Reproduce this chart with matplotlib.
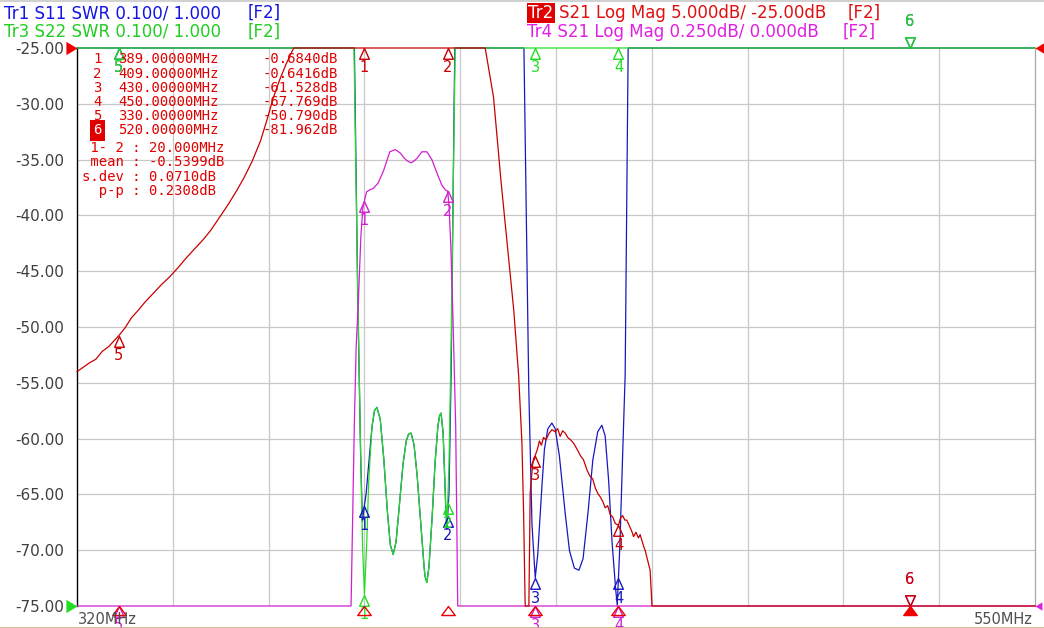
import numpy as np
import matplotlib
matplotlib.use('Agg')
import matplotlib.pyplot as plt
from matplotlib.path import Path
from matplotlib.lines import Line2D

# ---------------- data ----------------
F_START, F_STOP = 320.0, 550.0
Y_TOP, Y_BOT = -25.0, -75.0
y_ticks = [-25, -30, -35, -40, -45, -50, -55, -60, -65, -70, -75]
y_tick_labels = ["-25.00", "-30.00", "-35.00", "-40.00", "-45.00", "-50.00",
                 "-55.00", "-60.00", "-65.00", "-70.00", "-75.00"]

# S21 (dB) - shown as Tr2 (5 dB/div, ref -25 dB) and Tr4 (0.25 dB/div, ref 0 dB)
s21_freq = [320.0, 321.5, 323.0, 324.5, 326.0, 327.5, 329.0, 330.0, 331.5, 333.0,
            334.5, 336.0, 338.0, 340.0, 342.0, 344.0, 346.0, 348.0, 350.0, 352.0,
            354.0, 356.0, 358.0, 360.0, 362.0, 364.0, 365.5, 367.0, 368.5, 370.0,
            372.0, 385.8, 386.5, 387.0, 387.5, 388.1, 388.6, 389.0, 389.5, 390.3,
            391.1, 392.3, 393.5, 394.3, 395.1, 396.4, 397.6, 398.4, 399.2, 400.2,
            401.0, 401.6, 402.8, 404.0, 405.2, 406.4, 407.6, 408.4, 409.0, 409.3,
            409.7, 410.2, 410.6, 410.9, 411.4, 418.0, 420.0, 421.6, 423.2, 424.8,
            426.0, 426.8, 427.2, 427.4, 427.7, 428.4, 428.8, 429.3, 429.6, 430.0,
            430.5, 431.0, 431.5, 432.0, 432.6, 433.2, 434.0, 434.8, 435.4, 436.0,
            436.6, 437.2, 437.8, 438.5, 439.2, 440.0, 440.8, 441.6, 442.4, 443.2,
            443.8, 444.4, 445.0, 445.6, 446.2, 446.8, 447.4, 448.0, 448.6, 449.2,
            450.0, 450.5, 451.0, 451.5, 452.0, 452.6, 453.2, 453.6, 454.2, 454.8,
            455.2, 455.8, 456.4, 457.0, 457.6, 458.0, 458.3, 470.0, 490.0, 520.0,
            550.0]
s21_db = [-54.0, -53.6, -53.2, -52.9, -52.2, -51.8, -51.2, -50.79, -50.1, -49.2,
          -48.6, -47.9, -47.1, -46.3, -45.6, -44.8, -43.9, -43.1, -42.3, -41.4,
          -40.3, -39.2, -38.0, -36.7, -35.2, -33.4, -31.6, -29.6, -28.0, -26.6,
          -25.0, -2.5, -1.75, -1.35, -1.16, -0.86, -0.72, -0.684, -0.645, -0.635,
          -0.63, -0.605, -0.555, -0.51, -0.465, -0.455, -0.47, -0.49, -0.505, -0.515,
          -0.505, -0.495, -0.465, -0.465, -0.50, -0.56, -0.615, -0.635, -0.6416, -0.70,
          -0.86, -1.16, -1.46, -1.665, -2.5, -25.0, -29.4, -36.2, -42.2, -48.2,
          -54.1, -60.1, -66.1, -70.9, -77.0, -78.0, -64.9, -62.6, -61.8, -61.528,
          -61.0, -60.2, -60.6, -59.9, -60.1, -59.6, -59.2, -59.4, -59.1, -59.8,
          -59.3, -59.5, -59.9, -60.1, -60.4, -60.9, -61.5, -61.9, -62.8, -63.4,
          -63.6, -64.4, -64.9, -65.2, -65.6, -66.2, -66.0, -66.8, -67.0, -67.6,
          -67.769, -67.1, -66.9, -67.3, -67.3, -67.8, -68.3, -68.8, -68.4, -68.9,
          -68.6, -69.4, -70.0, -70.9, -71.8, -74.7, -78.0, -80.0, -82.0, -81.962,
          -82.0]

# S11 SWR (Tr1)
s11_freq = [320.0, 386.0, 386.6, 387.3, 388.0, 388.5, 388.9, 389.4, 390.0, 390.8,
            391.4, 392.0, 392.8, 393.6, 394.4, 395.2, 395.9, 396.6, 397.4, 398.2,
            399.0, 399.6, 400.2, 400.9, 401.6, 402.3, 403.0, 403.5, 404.0, 404.5,
            405.2, 405.9, 406.6, 407.0, 407.4, 407.9, 408.4, 408.8, 409.3, 409.8,
            410.3, 410.7, 411.0, 420.0, 427.0, 427.3, 428.4, 429.2, 430.0, 430.6,
            431.4, 432.2, 433.0, 434.0, 434.8, 435.8, 437.0, 438.2, 439.4, 440.5,
            441.5, 442.6, 443.8, 445.0, 446.0, 446.8, 447.6, 448.4, 449.2, 449.7,
            450.3, 450.8, 451.6, 452.3, 453.0, 550.0]
s11_swr = [10.0, 4.0, 2.0, 1.6, 1.3, 1.15, 1.175, 1.2, 1.25, 1.32,
           1.35, 1.356, 1.335, 1.27, 1.18, 1.11, 1.092, 1.115, 1.18, 1.25,
           1.295, 1.308, 1.31, 1.29, 1.24, 1.17, 1.1, 1.055, 1.042, 1.07,
           1.15, 1.25, 1.32, 1.34, 1.346, 1.31, 1.2, 1.136, 1.2, 1.4,
           1.75, 2.0, 4.0, 10.0, 4.0, 2.0, 1.41, 1.15, 1.05, 1.09,
           1.19, 1.28, 1.317, 1.328, 1.318, 1.27, 1.18, 1.10, 1.068, 1.064,
           1.085, 1.16, 1.26, 1.312, 1.324, 1.305, 1.23, 1.12, 1.04, 1.0,
           1.1, 1.226, 1.41, 2.0, 4.0, 10.0]

# S22 SWR (Tr3)
s22_freq = [320.0, 386.0, 386.5, 387.2, 387.9, 388.5, 389.0, 389.5, 390.0, 390.8,
            391.4, 392.0, 392.8, 393.6, 394.4, 395.2, 395.9, 396.6, 397.4, 398.2,
            399.0, 399.6, 400.2, 400.9, 401.6, 402.3, 403.0, 403.5, 404.0, 404.5,
            405.2, 405.9, 406.6, 407.0, 407.4, 407.9, 408.4, 408.8, 409.3, 409.8,
            410.4, 410.8, 411.3, 550.0]
s22_swr = [10.0, 4.0, 2.0, 1.65, 1.35, 1.12, 1.02, 1.1, 1.22, 1.32,
           1.35, 1.356, 1.335, 1.27, 1.18, 1.11, 1.092, 1.115, 1.18, 1.25,
           1.295, 1.308, 1.31, 1.29, 1.24, 1.17, 1.1, 1.055, 1.042, 1.07,
           1.15, 1.25, 1.32, 1.34, 1.346, 1.31, 1.2, 1.14, 1.25, 1.45,
           1.8, 2.0, 4.0, 10.0]

marker_ids = [1, 2, 3, 4, 5, 6]
marker_freq = [389.0, 409.0, 430.0, 450.0, 330.0, 520.0]
marker_val = [-0.6840, -0.6416, -61.528, -67.769, -50.790, -81.962]
active_marker = 6
stats_labels = [" 1- 2", " mean", "s.dev", "  p-p"]
stats_values = ["20.000MHz", "-0.5399dB", "0.0710dB", "0.2308dB"]

header_left = [("Tr1 S11 SWR 0.100/ 1.000", "[F2]", "#1414e6"),
               ("Tr3 S22 SWR 0.100/ 1.000", "[F2]", "#22cc22")]
header_right = [("Tr2", "S21 Log Mag 5.000dB/ -25.00dB", "[F2]", "#e01010"),
                ("Tr4", "S21 Log Mag 0.250dB/ 0.000dB", "[F2]", "#e020e0")]

# ---------------- figure ----------------
W, H = 1044, 628
fig = plt.figure(figsize=(W / 100, H / 100), dpi=100)
fig.patch.set_facecolor('white')
L, R, T, B = 77, 1035, 48, 606
ax = fig.add_axes([L / W, 1 - B / H, (R - L) / W, (B - T) / H])
ax.set_xlim(F_START, F_STOP)
ax.set_ylim(Y_BOT, Y_TOP)
ax.set_facecolor('white')

xg = np.linspace(F_START, F_STOP, 11)
for x in xg[1:-1]:
    ax.axvline(x, color='#c8c8c8', lw=0.9, zorder=1)
for y in y_ticks[1:-1]:
    ax.axhline(y, color='#c8c8c8', lw=0.9, zorder=1)

ax.set_xticks([])
ax.set_yticks(y_ticks)
ax.set_yticklabels(y_tick_labels, fontsize=11, color='#404040', family='DejaVu Sans')
ax.tick_params(axis='y', length=0, pad=9)
for s in ['top', 'bottom']:
    ax.spines[s].set_visible(False)
ax.spines['left'].set_color('black')
ax.spines['left'].set_linewidth(1.0)
ax.spines['right'].set_color('#a8a8a8')
ax.spines['right'].set_linewidth(0.9)

fgrid = np.linspace(F_START, F_STOP, 8000)


def disp_logmag(db, ref, scale):
    return Y_TOP + (np.asarray(db) - ref) / scale * 5.0


def disp_swr(swr, ref=1.0, scale=0.1):
    return Y_BOT + (np.asarray(swr) - ref) / scale * 5.0


def trace(freq, disp_vals):
    d = np.interp(fgrid, freq, disp_vals)
    return np.clip(d, Y_BOT, Y_TOP)


c_blue, c_green, c_red, c_mag = '#1818c0', '#22dd22', '#c80000', '#d020d0'
tr1_disp = disp_swr(s11_swr)
tr3_disp = disp_swr(s22_swr)
tr2_disp = disp_logmag(s21_db, -25.0, 5.0)
tr4_disp = disp_logmag(s21_db, 0.0, 0.25)

traces = [
    (s11_freq, tr1_disp, c_blue, 2),
    (s22_freq, tr3_disp, c_green, 3),
    (s21_freq, tr4_disp, c_mag, 4),
    (s21_freq, tr2_disp, c_red, 5),
]
for fr, dv, col, z in traces:
    ax.plot(fgrid, trace(fr, dv), color=col, lw=0.9, zorder=z, clip_on=False)

# ---------------- markers ----------------
up_path = Path([(0, 0), (-0.45, -1), (0.45, -1), (0, 0)],
               [Path.MOVETO, Path.LINETO, Path.LINETO, Path.CLOSEPOLY])
down_path = Path([(0, 0), (-0.45, 1), (0.45, 1), (0, 0)],
                 [Path.MOVETO, Path.LINETO, Path.LINETO, Path.CLOSEPOLY])
stim_path = Path([(0, 0), (-0.6, -0.8), (0.6, -0.8), (0, 0)],
                 [Path.MOVETO, Path.LINETO, Path.LINETO, Path.CLOSEPOLY])

for fr, dv, col, z in traces:
    for mid, mf in zip(marker_ids, marker_freq):
        v = float(np.clip(np.interp(mf, fr, dv), Y_BOT, Y_TOP))
        active = (mid == active_marker)
        ax.plot([mf], [v], marker=down_path if active else up_path, ms=15.5,
                mfc='none', mec=col, mew=1.0, zorder=10 + z, clip_on=False)
        ax.annotate(str(mid), (mf, v), xytext=(0, 27 if active else -20),
                    textcoords='offset pixels', ha='center', va='center',
                    fontsize=10.5, color=col, zorder=10 + z,
                    annotation_clip=False)

# stimulus markers under the grid (active trace)
for mid, mf in zip(marker_ids, marker_freq):
    active = (mid == active_marker)
    ax.plot([mf], [Y_BOT], marker=stim_path, ms=13, mfc='#ee0000' if active else 'none',
            mec='#ee0000', mew=1.0, zorder=20, clip_on=False)

# reference position arrows
right_arrow = Path([(0, 0), (-1, 0.6), (-1, -0.6), (0, 0)],
                   [Path.MOVETO, Path.LINETO, Path.LINETO, Path.CLOSEPOLY])
left_arrow = Path([(0, 0), (1, 0.6), (1, -0.6), (0, 0)],
                  [Path.MOVETO, Path.LINETO, Path.LINETO, Path.CLOSEPOLY])
ax.plot([F_START], [Y_TOP], marker=right_arrow, ms=16, color='#ee0000', mew=0, clip_on=False, zorder=30)
ax.plot([F_START], [Y_BOT], marker=right_arrow, ms=16, color='#22dd22', mew=0, clip_on=False, zorder=30)
ax.plot([F_STOP], [Y_TOP], marker=left_arrow, ms=16, color='#ee0000', mew=0, clip_on=False, zorder=30)
ax.plot([F_STOP], [Y_BOT], marker=left_arrow, ms=10, color='#e020e0', mew=0, clip_on=False, zorder=30)


# ---------------- texts ----------------
def ftext(x, y, s, **kw):
    kw.setdefault('va', 'center')
    return fig.text(x / W, 1 - y / H, s, **kw)


hf = dict(fontsize=12, family='DejaVu Sans')
for (txt, f2, col), y in zip(header_left, [13, 32]):
    ftext(4, y, txt, color=col, **hf)
    ftext(248, y, f2, color=col, **hf)
(tag, txt, f2, col) = header_right[0]
ftext(528, 13, tag, color='white',
      bbox=dict(boxstyle='square,pad=0.08', fc='#e00000', ec='none'), **hf)
ftext(559, 13, txt, color=col, **hf)
ftext(848, 13, f2, color=col, **hf)
(tag, txt, f2, col) = header_right[1]
ftext(527, 32, tag + " " + txt, color=col, **hf)
ftext(843, 32, f2, color=col, **hf)

ftext(78, 619, "%dMHz" % F_START, color='#505050', fontsize=10.5, ha='left')
ftext(1033, 619, "%dMHz" % F_STOP, color='#505050', fontsize=10.5, ha='right')

# marker table
mono = dict(family='DejaVu Sans Mono', fontsize=10, color='#e00000')
row_y = [59, 73.5, 87.5, 102, 116, 130.5]
for mid, mf, mv, y in zip(marker_ids, marker_freq, marker_val, row_y):
    if mid == active_marker:
        ftext(93, y, str(mid), bbox=dict(boxstyle='square,pad=0.25', fc='#e00000', ec='none'),
              **{**mono, 'color': 'white'})
    else:
        ftext(93, y, str(mid), **mono)
    ftext(118, y, "%.5fMHz" % mf, **mono)
    vs = ("%.4f" % mv) if abs(mv) < 10 else ("%.3f" % mv)
    ftext(263, y, vs + "dB", **mono)
for lab, val, y in zip(stats_labels, stats_values, [148.5, 162.5, 177, 191.5]):
    ftext(82, y, lab + " : " + val, **mono)

# outer frame lines
fig.add_artist(Line2D([0, 1], [1 - 0.5 / H, 1 - 0.5 / H], transform=fig.transFigure,
                      color='#c8c8c8', lw=1.2))
fig.add_artist(Line2D([0, 1], [0.5 / H, 0.5 / H], transform=fig.transFigure,
                      color='#c8b48c', lw=1.2))

fig.savefig('out.png', dpi=100, facecolor='white')
